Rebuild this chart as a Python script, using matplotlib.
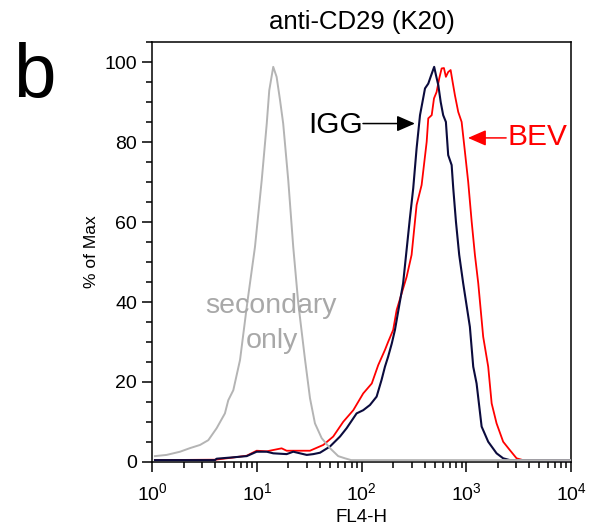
import matplotlib
matplotlib.use("Agg")
import matplotlib.pyplot as plt
from matplotlib.ticker import FixedLocator, LogLocator, NullFormatter, MultipleLocator

plt.rcParams['font.family'] = ['Liberation Sans', 'DejaVu Sans']
plt.rcParams['mathtext.fontset'] = 'custom'
plt.rcParams['mathtext.rm'] = 'Liberation Sans'
plt.rcParams['mathtext.it'] = 'Liberation Sans'

# ---- data (FL4-H, % of Max) ----
sec_x = [1.06, 1.37, 1.84, 2.29, 2.86, 3.43, 4.12, 4.94, 5.32, 5.94, 6.89, 8.07, 9.57,
         11.1, 12.4, 13.1, 14.3, 15.4, 16.6, 17.8, 19.9, 22.2, 24.8, 28.8, 32.1, 35.8,
         41.5, 49.8, 59.7, 69.2, 79.4, 9900]
sec_y = [1.4, 1.7, 2.5, 3.4, 4.2, 5.4, 8.4, 12.1, 15.4, 17.9, 25.5, 39.7, 53.8,
         70.5, 84.7, 93.0, 98.9, 96.4, 90.6, 84.7, 70.5, 53.8, 39.7, 25.5, 15.9, 9.6,
         5.9, 3.4, 1.4, 0.85, 0.4, 0.4]

igg_x = [1.06, 3.97, 4.12, 5.94, 7.98, 9.93, 12.4, 14.3, 19.2, 22.2, 29.9, 34.5, 40.0,
         49.8, 62.1, 71.9, 89.5, 103.5, 120, 139, 155, 167, 179, 194, 208, 249, 289,
         311, 335, 361, 403, 433, 456, 493, 513, 540, 569, 601, 638, 671, 724, 750,
         796, 855, 933, 1081, 1164, 1253, 1400, 1618, 1945, 2249, 2606, 9900]
igg_y = [0.4, 0.4, 0.75, 1.1, 1.4, 2.5, 2.5, 2.1, 1.9, 2.5, 1.7, 1.9, 2.25,
         3.8, 6.3, 8.4, 12.1, 12.9, 14.2, 16.3, 20.5, 23.8, 26.3, 29.6, 33.0, 44.7, 61.0,
         68.5, 78.5, 86.8, 93.5, 94.7, 96.4, 98.9, 96.8, 94.3, 90.1, 86.8, 85.1, 76.8, 74.3, 68.5,
         60.1, 51.8, 44.7, 33.8, 23.8, 19.6, 8.8, 5.0, 2.1, 0.85, 0.4, 0.4]

bev_x = [1.06, 3.97, 5.73, 7.98, 9.93, 12.4, 17.2, 19.2, 25.8, 32.1, 43.0, 53.5, 66.7,
         83.2, 103.5, 125, 144, 167, 179, 200, 216, 269, 300, 335, 374, 418, 433,
         467, 491, 520, 551, 581, 611, 638, 671, 708, 740, 778, 837, 902, 970, 1042,
         1125, 1208, 1300, 1449, 1618, 1746, 1945, 2249, 2606, 3020, 3475, 9900]
bev_y = [0.4, 0.5, 1.0, 1.5, 2.75, 2.6, 3.35, 2.75, 2.75, 2.75, 4.2, 6.3, 10.0,
         12.9, 17.1, 19.6, 24.2, 28.0, 30.0, 33.0, 38.0, 46.3, 51.8, 64.3, 69.3, 80.1, 86.0,
         86.8, 91.0, 92.6, 96.0, 98.5, 98.6, 96.4, 97.6, 98.1, 95.1, 91.8, 87.6, 85.1, 77.6, 70.1,
         60.1, 51.8, 44.7, 31.3, 23.8, 14.6, 9.6, 5.0, 2.9, 0.85, 0.4, 0.4]

x_ticks = [1, 10, 100, 1000, 10000]
x_tick_labels = [r'$\mathregular{10^{0}}$', r'$\mathregular{10^{1}}$', r'$\mathregular{10^{2}}$',
                 r'$\mathregular{10^{3}}$', r'$\mathregular{10^{4}}$']
y_ticks = [0, 20, 40, 60, 80, 100]

NAVY = '#0b0b3d'
RED = '#ff0000'
GRAY = '#b4b4b4'
TGRAY = '#a8a8a8'

fig = plt.figure(figsize=(6.04, 5.31), dpi=100)
ax = fig.add_axes([152.3 / 604, (531 - 461.7) / 531, (571 - 152.3) / 604, 420 / 531])

ax.plot(bev_x, bev_y, color=RED, lw=1.3, zorder=3)
ax.plot(igg_x, igg_y, color=NAVY, lw=1.5, zorder=4)
ax.plot(sec_x, sec_y, color=GRAY, lw=1.4, zorder=5)

ax.set_xscale('log')
ax.set_xlim(1, 10000)
ax.set_ylim(0, 105.2)

ax.xaxis.set_major_locator(FixedLocator(x_ticks))
ax.set_xticklabels(x_tick_labels)
ax.xaxis.set_minor_locator(LogLocator(base=10, subs=range(2, 10), numticks=20))
ax.xaxis.set_minor_formatter(NullFormatter())
ax.yaxis.set_major_locator(FixedLocator(y_ticks))
ax.yaxis.set_minor_locator(MultipleLocator(5))

for s in ax.spines.values():
    s.set_linewidth(1.1)
ax.tick_params(which='major', direction='out', length=7, width=1.1, labelsize=14, pad=4)
ax.tick_params(which='minor', direction='out', length=4.3, width=1.1)
ax.tick_params(axis='x', which='major', pad=7.5)

ax.set_xlabel('FL4-H', fontsize=13.5, labelpad=3.5)
ax.set_ylabel('% of Max', fontsize=12.5, labelpad=4)
ax.set_title('anti-CD29 (K20)', fontsize=18.5, pad=9)

# annotations
ax.text(30.8, 82.4, 'IGG', fontsize=21.5, color='black', ha='left', va='baseline', zorder=6)
ax.annotate('', xy=(323, 84.7), xytext=(103, 84.7),
            arrowprops=dict(arrowstyle='-|>,head_length=0.55,head_width=0.24',
                            mutation_scale=20, color='black', lw=1.1,
                            shrinkA=0, shrinkB=0), zorder=6)
ax.text(2496, 79.3, 'BEV', fontsize=21.5, color=RED, ha='left', va='baseline', zorder=6)
ax.annotate('', xy=(1036, 81.1), xytext=(2400, 81.1),
            arrowprops=dict(arrowstyle='-|>,head_length=0.55,head_width=0.24',
                            mutation_scale=20, color=RED, lw=1.1,
                            shrinkA=0, shrinkB=0), zorder=6)
ax.text(13.75, 37.2, 'secondary', fontsize=20.5, color=TGRAY, ha='center', va='baseline', zorder=6)
ax.text(13.75, 28.4, 'only', fontsize=20.5, color=TGRAY, ha='center', va='baseline', zorder=6)

fig.text(13 / 604, 1 - 97 / 531, 'b', fontsize=55, ha='left', va='baseline')

fig.savefig('out.png', dpi=100)
